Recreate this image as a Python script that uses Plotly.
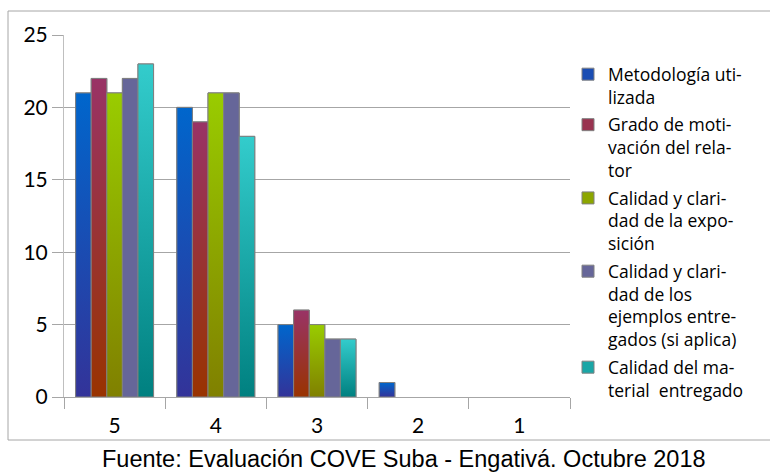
import plotly.graph_objects as go

# Puntaje otorgado (5 = mejor) y número de respuestas por aspecto evaluado
categories = ["5", "4", "3", "2", "1"]
series_names = [
    "Metodología uti-<br>lizada",
    "Grado de moti-<br>vación del rela-<br>tor",
    "Calidad y clari-<br>dad de la expo-<br>sición",
    "Calidad y clari-<br>dad de los<br>ejemplos entre-<br>gados (si aplica)",
    "Calidad del ma-<br>terial  entregado",
]
metodologia = [21, 20, 5, 1, 0]
motivacion = [22, 19, 6, 0, 0]
exposicion = [21, 21, 5, 0, 0]
ejemplos = [22, 21, 4, 0, 0]
material = [23, 18, 4, 0, 0]
series_values = [metodologia, motivacion, exposicion, ejemplos, material]

# (color superior, color inferior) del degradado de cada serie
top_colors = ["#0066CC", "#993366", "#99CC00", "#666699", "#33CCCC"]
bottom_colors = ["#333399", "#993300", "#808000", "#666699", "#008080"]
legend_colors = ["#1A4DB3", "#993350", "#8CA600", "#666699", "#1AA6A6"]

FONT = "Lato"
LEGEND_FONT = "Open Sans"
OUTLINE = "#808080"
BARGAP = 0.23
n_series = len(series_values)
bar_w = (1 - BARGAP) / n_series
xpos = list(range(len(categories)))

fig = go.Figure()

# Barras agrupadas (también aportan las entradas de la leyenda);
# los ceros se omiten para no dibujar un contorno sobre el eje
for j, (name, vals) in enumerate(zip(series_names, series_values)):
    fig.add_trace(go.Bar(
        x=xpos, y=[v if v > 0 else None for v in vals],
        name=name, legendgroup=f"s{j}",
        marker=dict(color=legend_colors[j], line=dict(color=OUTLINE, width=1)),
        hoverinfo="skip",
    ))

# Relleno en degradado vertical sobre cada barra
for j, vals in enumerate(series_values):
    for i, v in enumerate(vals):
        if v <= 0:
            continue
        x0 = xpos[i] - (1 - BARGAP) / 2 + j * bar_w
        x1 = x0 + bar_w
        fig.add_trace(go.Scatter(
            x=[x0, x1, x1, x0, x0], y=[0, 0, v, v, 0],
            mode="lines", fill="toself",
            fillgradient=dict(type="vertical",
                              colorscale=[[0, bottom_colors[j]], [1, top_colors[j]]]),
            line=dict(color=OUTLINE, width=1),
            legendgroup=f"s{j}", showlegend=False,
            hovertemplate=f"{categories[i]}: {v}<extra></extra>",
        ))

fig.update_layout(
    width=770, height=472,
    margin=dict(l=64, r=200, t=35, b=75, autoexpand=False),
    paper_bgcolor="white", plot_bgcolor="white",
    barmode="group", bargap=BARGAP, bargroupgap=0,
    font=dict(family=FONT, size=20, color="black"),
    showlegend=True,
    legend=dict(
        x=1.0 - 2 / 506, xanchor="left",
        y=0.455, yanchor="middle",
        font=dict(family=LEGEND_FONT, size=17.5, color="black"),
        traceorder="grouped", tracegroupgap=2, itemwidth=30, valign="top",
        bgcolor="rgba(0,0,0,0)",
    ),
    xaxis=dict(
        range=[-0.5, 4.5], tickmode="array", tickvals=xpos, ticktext=categories,
        ticks="outside", ticklen=10, tickcolor="rgba(0,0,0,0)",
        showgrid=False, zeroline=False,
        showline=True, linecolor="#a6a6a6", linewidth=1,
        minor=dict(tick0=0.5, dtick=1, ticks="outside", ticklen=11,
                   tickcolor="#a6a6a6", tickwidth=1, showgrid=False),
        tickfont=dict(family=FONT, size=21),
        fixedrange=True,
    ),
    yaxis=dict(
        range=[0, 25], dtick=5, tick0=0,
        ticks="outside", ticklen=11, tickcolor="#a6a6a6",
        showgrid=True, gridcolor="#a6a6a6", gridwidth=1,
        zeroline=False, showline=True, linecolor="#bfbfbf", linewidth=1,
        tickfont=dict(family=FONT, size=21),
        fixedrange=True,
    ),
    shapes=[dict(
        type="rect", xref="paper", yref="paper",
        x0=(8 - 64) / 506, x1=(772 - 64) / 506,
        y0=(397 - 440) / 362, y1=(397 - 11) / 362,
        line=dict(color="#a6a6a6", width=1), layer="below",
    )],
    annotations=[dict(
        text="Fuente: Evaluación COVE Suba - Engativá. Octubre 2018",
        xref="paper", yref="paper", x=(404 - 64) / 506, y=(397 - 459) / 362,
        xanchor="center", yanchor="middle", showarrow=False,
        font=dict(family="Liberation Sans", size=23.5, color="black"),
    )],
)

fig.write_html("out.html")
